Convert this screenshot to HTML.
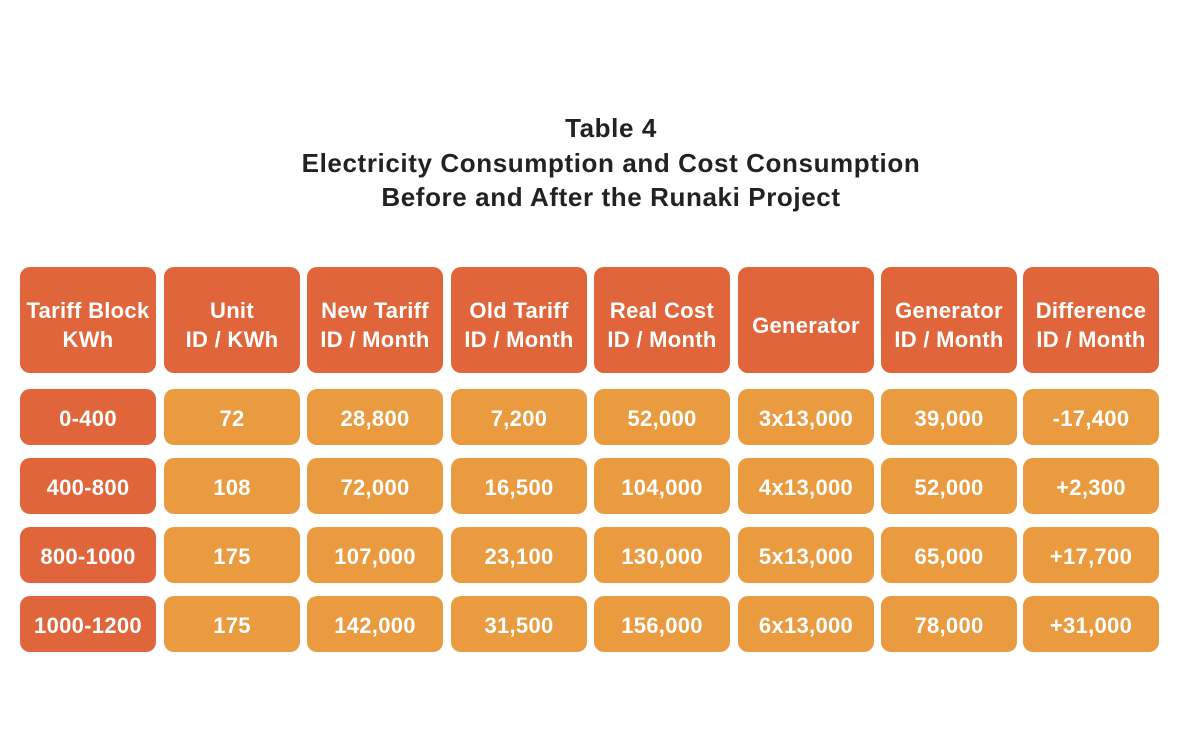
<!DOCTYPE html>
<html><head><style>
body{margin:0;width:1182px;height:748px;background:#fff;font-family:"Liberation Sans",sans-serif;position:relative;overflow:hidden}
.t{position:absolute;left:20px;width:1182px;text-align:center;font-weight:bold;font-size:26px;letter-spacing:0.6px;color:#222;line-height:34.5px;top:111px}
.b{position:absolute;width:136px;border-radius:10px;color:#fff;font-weight:bold;font-size:22px;letter-spacing:0.3px;display:flex;align-items:center;justify-content:center;text-align:center;line-height:29px;white-space:nowrap;box-sizing:border-box}
.h{background:#E0653B}.d{background:#EA9B40}
</style></head><body>
<div class="t">Table 4<br>Electricity Consumption and Cost Consumption<br>Before and After the Runaki Project</div>
<div id="g"></div>
<script>
var xs=[20,164,307,451,594,738,881,1023];
var hd=["Tariff Block<br>KWh","Unit<br>ID / KWh","New Tariff<br>ID / Month","Old Tariff<br>ID / Month","Real Cost<br>ID / Month","Generator","Generator<br>ID / Month","Difference<br>ID / Month"];
var rows=[["0-400","72","28,800","7,200","52,000","3x13,000","39,000","-17,400"],
["400-800","108","72,000","16,500","104,000","4x13,000","52,000","+2,300"],
["800-1000","175","107,000","23,100","130,000","5x13,000","65,000","+17,700"],
["1000-1200","175","142,000","31,500","156,000","6x13,000","78,000","+31,000"]];
var ys=[389,458,527,596],h="";
for(var i=0;i<8;i++){h+='<div class="b h" style="left:'+xs[i]+'px;top:267px;height:106px;padding-top:10px">'+hd[i]+'</div>';
for(var r=0;r<4;r++)h+='<div class="b '+(i==0?'h':'d')+'" style="left:'+xs[i]+'px;top:'+ys[r]+'px;height:56px;padding-top:2px">'+rows[r][i]+'</div>';}
document.getElementById("g").innerHTML=h;
</script>
</body></html>
